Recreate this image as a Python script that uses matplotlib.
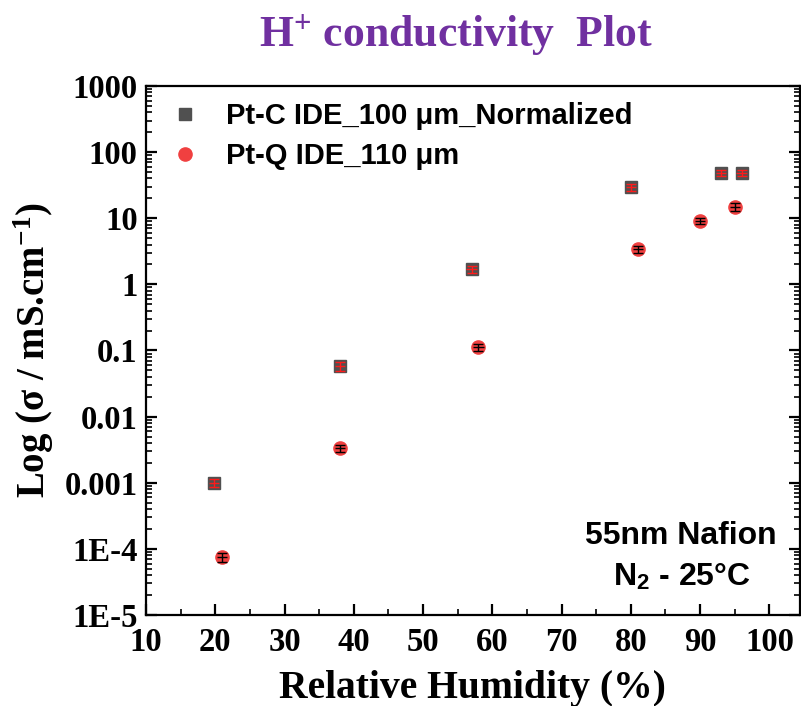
import matplotlib
matplotlib.use("Agg")
import matplotlib.pyplot as plt
from matplotlib.ticker import LogLocator, FixedLocator, MultipleLocator, NullFormatter, FixedFormatter

plt.rcParams['mathtext.fontset'] = 'custom'
plt.rcParams['mathtext.rm'] = 'Liberation Serif:bold'
plt.rcParams['mathtext.bf'] = 'Liberation Serif:bold'
plt.rcParams['mathtext.it'] = 'Liberation Serif:bold'
plt.rcParams['mathtext.sf'] = 'Liberation Sans:bold'

# Data
rh_ptc = [19.8, 38, 57, 80, 93, 96]
sig_ptc = [0.001, 0.058, 1.7, 29.5, 49, 49]
err_ptc = [0.00015, 0.009, 0.2, 3.3, 5.5, 5.5]
rh_ptq = [21, 38, 58, 81, 90, 95]
sig_ptq = [7.5e-5, 0.0033, 0.112, 3.4, 9.1, 14.8]
err_ptq = [1.2e-5, 0.0004, 0.013, 0.4, 1.0, 2.0]
xerr_rh = 0.75

ytick_vals = [1e-5, 1e-4, 1e-3, 1e-2, 1e-1, 1, 10, 100, 1000]
ytick_labels = ['1E-5', '1E-4', '0.001', '0.01', '0.1', '1', '10', '100', '1000']
xtick_vals = [10, 20, 30, 40, 50, 60, 70, 80, 90, 100]

fig = plt.figure(figsize=(8.01, 7.06), dpi=100)
ax = fig.add_axes([0.1823, 0.1289, 0.8177 - 0.0015, 0.7493])

ax.set_yscale('log')
ax.set_xlim(10, 104.4)
ax.set_ylim(1e-5, 1000)

ax.plot(rh_ptc, sig_ptc, 's', color='#505050', ms=8.5, mec='#505050',
        label='Pt-C IDE_100 μm_Normalized', zorder=3)
ax.plot(rh_ptq, sig_ptq, 'o', color='#f04040', ms=9.5, mec='#f04040',
        label='Pt-Q IDE_110 μm', zorder=3)
ax.errorbar(rh_ptc, sig_ptc, yerr=err_ptc, fmt='none', ecolor='#ff1a1a',
            elinewidth=1.0, capsize=3.5, capthick=1.0, zorder=4)
ax.errorbar(rh_ptc, sig_ptc, xerr=xerr_rh, fmt='none', ecolor='#ff1a1a',
            elinewidth=1.0, capsize=0, zorder=4)
ax.errorbar(rh_ptq, sig_ptq, yerr=err_ptq, fmt='none', ecolor='black',
            elinewidth=1.0, capsize=3.5, capthick=1.0, zorder=4)
ax.errorbar(rh_ptq, sig_ptq, xerr=xerr_rh, fmt='none', ecolor='black',
            elinewidth=1.0, capsize=0, zorder=4)

for s in ax.spines.values():
    s.set_linewidth(1.6)

ax.yaxis.set_major_locator(FixedLocator(ytick_vals))
ax.yaxis.set_major_formatter(FixedFormatter(ytick_labels))
ax.yaxis.set_minor_locator(LogLocator(base=10, subs=range(2, 10), numticks=20))
ax.yaxis.set_minor_formatter(NullFormatter())
ax.xaxis.set_major_locator(FixedLocator(xtick_vals))
ax.xaxis.set_minor_locator(MultipleLocator(5))

ax.tick_params(axis='both', which='major', direction='in', length=8, width=1.6,
               labelsize=23.5)
ax.tick_params(axis='x', which='major', pad=9)
ax.tick_params(axis='y', which='major', pad=6)
ax.tick_params(axis='both', which='minor', direction='in', length=4, width=1.2)
ax.tick_params(axis='y', which='both', left=True, right=True)
ax.tick_params(axis='x', which='both', top=False)
for lab in ax.get_xticklabels() + ax.get_yticklabels():
    lab.set_fontfamily('Liberation Serif')
    lab.set_fontweight('bold')

ax.set_xlabel('Relative Humidity (%)', fontfamily='Liberation Serif', fontweight='bold',
              fontsize=28.5, labelpad=8)
ax.set_ylabel(r'Log (σ / mS.cm$^{-1}$)', fontfamily='Liberation Serif', fontweight='bold',
              fontsize=28, labelpad=6)

fig.text(0.569, 0.950, r'H$^{+}$ conductivity  Plot', ha='center', va='center',
         fontfamily='Liberation Serif', fontweight='bold', fontsize=31.5, color='#7030a0')

leg = ax.legend(loc='upper left', bbox_to_anchor=(0.0, 1.0), frameon=False,
                prop={'family': 'Liberation Sans', 'weight': 'bold', 'size': 21},
                handletextpad=0.6, borderaxespad=0.25, labelspacing=0.42,
                handlelength=1.6, borderpad=0.3)

ax.text(0.965, 0.149, '55nm Nafion', transform=ax.transAxes, ha='right', va='center',
        fontfamily='Liberation Sans', fontweight='bold', fontsize=23)
ax.text(0.82, 0.072, r'N$_\mathsf{2}$ - 25°C', transform=ax.transAxes, ha='center', va='center',
        fontfamily='Liberation Sans', fontweight='bold', fontsize=23)

fig.savefig('out.png', dpi=100)
